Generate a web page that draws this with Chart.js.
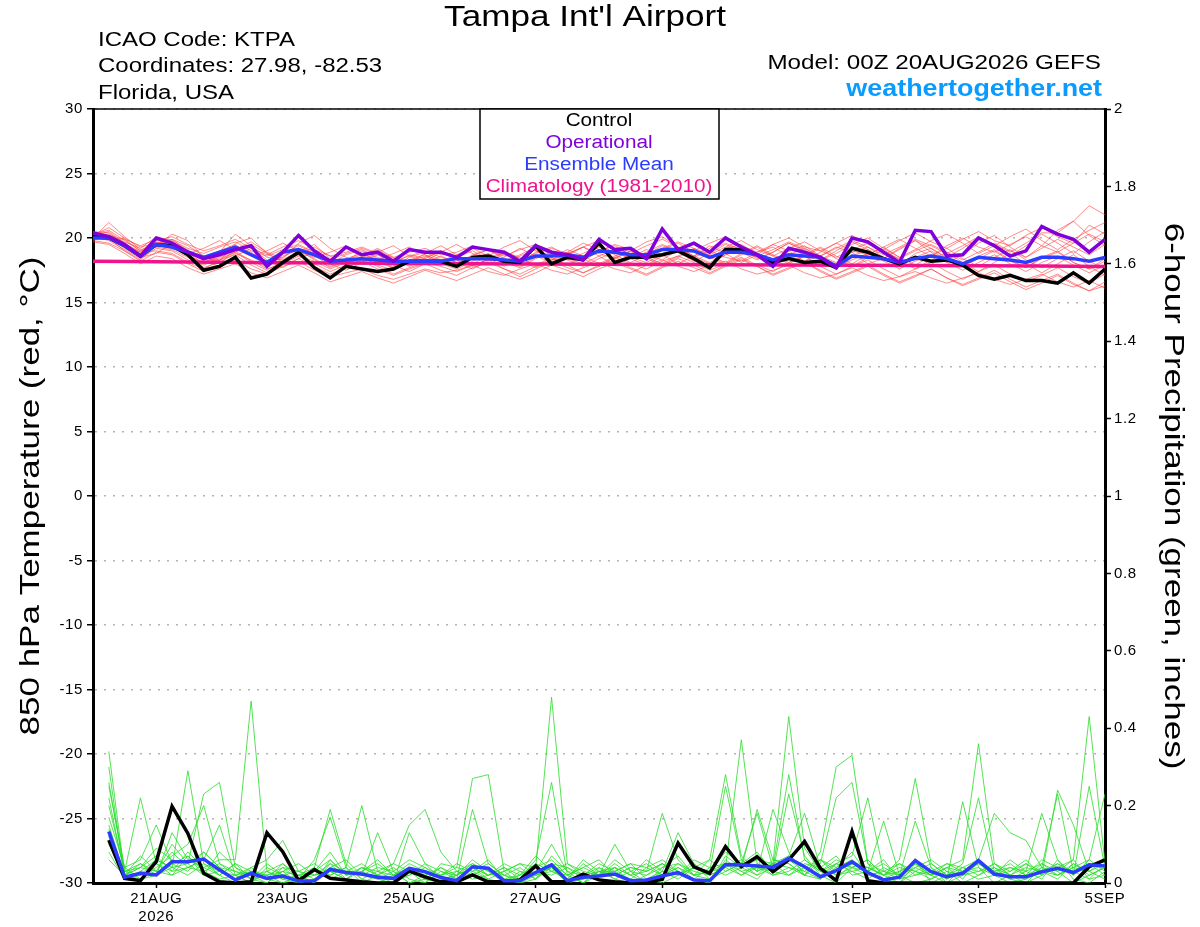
<!DOCTYPE html>
<html>
<head>
<meta charset="utf-8">
<title>Tampa Int'l Airport - GEFS</title>
<script src="https://cdn.jsdelivr.net/npm/chart.js@4/dist/chart.umd.min.js"></script>
<style>
  html, body { margin: 0; padding: 0; background: #fff; }
  #wrap { width: 1200px; height: 927px; }
</style>
</head>
<body>
<div id="wrap"><canvas id="meteogram" width="1200" height="927"></canvas></div>
<script>
// forecast hours, every 6h from 00Z 20AUG2026 out to 384h (5SEP)
let hours = [];
for (let h = 0; h <= 384; h += 6) hours.push(h);
let climoHours = [];
for (let h = 0; h <= 384; h += 24) climoHours.push(h);

// x axis labels (31AUG is skipped on the original)
let tickHours = [24, 72, 120, 168, 216, 288, 336, 384];
let tickLabels = [['21AUG', '2026'], '23AUG', '25AUG', '27AUG', '29AUG', '1SEP', '3SEP', '5SEP'];

// 850 hPa temperature (C), hour 0..384
let controlTemp = [20.1,20.0,19.4,18.6,19.5,19.4,18.7,17.5,17.8,18.5,16.9,17.2,18.1,18.9,17.7,16.9,17.8,17.6,17.4,17.6,18.2,18.2,18.2,17.8,18.5,18.6,18.2,18.1,19.4,18.0,18.5,18.3,19.6,18.1,18.5,18.5,18.7,19.0,18.4,17.7,19.1,19.1,18.7,18.1,18.4,18.1,18.2,17.7,19.2,18.9,18.4,18.0,18.5,18.2,18.3,17.9,17.1,16.8,17.1,16.7,16.7,16.5,17.3,16.5,17.6];
let operTemp = [20.4,20.1,19.5,18.6,20.0,19.6,18.9,18.4,18.7,19.1,19.4,17.8,18.9,20.2,19.0,18.2,19.3,18.7,18.9,18.2,19.1,18.9,18.9,18.5,19.3,19.1,18.9,18.2,19.4,18.9,18.7,18.3,19.9,19.1,19.2,18.4,20.7,19.1,19.6,18.9,20.0,19.3,18.7,17.8,19.2,18.9,18.5,17.7,20.0,19.7,18.9,18.1,20.6,20.5,18.6,18.7,20.0,19.4,18.6,19.0,20.9,20.3,19.9,18.9,19.9];
let meanTemp = [20.0,20.0,19.4,18.6,19.5,19.3,18.9,18.5,18.9,19.3,18.7,18.1,18.9,19.1,18.7,18.2,18.3,18.4,18.3,18.2,18.2,18.2,18.2,18.4,18.4,18.4,18.3,18.2,18.6,18.6,18.7,18.5,19.0,18.9,18.7,18.7,19.1,19.1,19.0,18.5,18.9,18.9,18.7,18.3,18.7,18.6,18.5,17.8,18.6,18.5,18.4,18.1,18.4,18.6,18.4,18.0,18.5,18.4,18.3,18.1,18.5,18.5,18.4,18.2,18.5];
let climoTemp = [18.2,18.16,18.12,18.09,18.06,18.03,18.0,17.98,17.96,17.94,17.92,17.9,17.88,17.86,17.84,17.82,17.8];

// ensemble members, temperature
let memberTemps = [
  [20.3,20.6,19.8,19.0,19.8,20.1,19.5,19.0,19.4,19.9,19.2,18.7,19.3,19.8,19.1,18.6,18.9,19.3,18.8,18.5,18.9,19.2,18.7,18.9,19.4,19.0,18.6,19.1,19.5,19.0,18.7,19.3,19.8,19.2,18.8,19.4,19.9,19.3,19.0,19.6,20.1,19.4,18.9,19.5,20.0,19.3,19.0,19.6,20.2,19.5,19.1,19.8,20.4,19.7,19.2,19.9,20.5,19.8,19.4,20.2,20.8,20.1,19.6,21.0,20.3],
  [19.8,19.6,19.0,18.2,18.9,18.7,18.0,17.4,17.9,18.3,17.6,17.2,17.8,18.2,17.5,17.0,17.3,17.6,17.1,16.8,17.2,17.6,17.3,17.5,17.9,17.4,17.1,17.6,18.0,17.5,17.2,17.7,18.1,17.6,17.3,17.9,18.3,17.8,17.4,17.9,18.2,17.6,17.2,17.5,17.9,17.3,16.9,17.2,17.7,17.1,16.7,17.0,17.4,16.9,16.5,16.9,17.3,16.8,16.4,16.8,17.2,16.6,16.2,16.7,16.1],
  [20.2,20.3,19.6,18.8,19.7,19.5,18.6,18.1,18.6,19.4,18.9,18.0,18.5,19.2,18.6,17.9,18.4,18.8,18.2,17.8,18.5,18.9,18.3,18.0,18.7,19.1,18.4,18.1,18.9,19.3,18.6,18.2,19.0,19.4,18.7,18.3,19.1,19.6,18.9,18.4,19.2,19.5,18.8,18.3,19.0,19.4,18.6,18.1,18.9,19.3,18.5,17.9,18.8,19.2,18.4,17.8,18.6,19.1,18.3,17.7,18.5,19.0,18.1,17.6,18.4],
  [20.0,21.2,20.1,19.1,19.4,20.3,19.8,18.5,18.2,19.6,20.0,18.8,18.1,18.9,19.5,18.4,17.9,18.6,19.2,18.5,17.8,18.4,19.0,18.6,17.9,18.3,18.9,18.5,17.8,18.2,18.8,19.3,18.6,17.9,18.5,19.1,18.7,18.0,18.6,19.4,18.8,18.1,18.7,19.5,19.0,18.2,18.6,19.3,18.9,18.0,18.4,19.2,19.8,18.9,18.1,18.7,19.6,20.2,19.3,18.5,19.4,20.6,21.3,20.2,19.4],
  [20.1,19.8,19.1,18.4,19.2,19.0,18.3,17.9,18.4,18.9,18.1,17.5,18.2,18.7,18.0,17.4,17.9,18.3,17.8,17.2,17.7,18.1,17.8,17.4,17.9,18.3,17.6,17.2,17.8,18.4,17.9,17.3,17.9,18.5,18.0,17.6,18.2,18.6,18.1,17.5,18.0,18.5,17.9,17.4,18.1,18.6,17.8,17.2,17.8,18.3,17.6,17.0,17.6,18.1,17.4,16.8,17.4,17.9,17.2,16.6,17.1,17.7,17.0,16.5,17.2],
  [20.4,20.2,19.7,19.2,20.1,19.8,19.2,18.8,19.3,19.7,19.0,18.6,19.1,19.5,18.9,18.3,18.8,19.2,18.7,18.2,18.6,19.0,18.5,18.1,18.6,19.1,18.7,18.3,18.8,19.2,18.8,18.4,19.0,19.5,19.1,18.6,19.2,19.7,19.2,18.7,19.3,19.8,19.1,18.6,19.2,19.7,19.0,18.5,19.1,19.6,18.9,18.4,19.0,19.5,18.9,18.3,18.9,19.6,19.0,18.5,19.2,19.9,19.3,18.7,19.5],
  [19.9,20.0,19.2,18.5,18.8,19.6,19.1,18.2,17.8,18.6,19.2,18.3,17.7,18.4,18.9,18.0,17.5,18.1,18.7,17.9,17.4,18.0,18.6,18.1,17.6,18.2,18.8,18.2,17.7,18.3,18.9,18.4,17.8,18.5,19.0,18.4,17.9,18.5,19.1,18.5,18.0,18.7,19.3,18.6,18.0,18.6,19.2,18.4,17.8,18.5,19.1,18.3,17.6,18.3,18.9,18.1,17.4,18.1,18.8,18.0,17.3,18.0,18.7,17.8,17.1],
  [20.5,20.4,19.5,18.9,19.9,19.7,19.0,18.4,19.0,19.5,18.6,18.2,18.8,19.4,18.8,18.0,18.7,19.1,18.5,18.0,18.7,18.4,17.9,18.5,19.0,18.4,17.8,18.6,19.1,18.5,17.9,18.6,19.3,18.7,18.1,18.7,19.4,18.9,18.2,18.8,19.5,18.9,18.3,18.9,19.6,19.0,18.3,19.0,19.7,19.1,18.4,19.1,19.8,19.2,18.5,19.2,20.0,19.4,18.6,19.4,20.3,19.6,18.8,19.7,20.5],
  [19.7,19.5,18.8,18.0,18.6,18.4,17.7,17.2,17.6,18.0,17.3,16.9,17.4,17.9,17.3,16.6,17.0,17.4,16.9,16.5,17.0,17.5,17.1,16.7,17.2,17.7,17.2,16.8,17.3,17.9,17.5,17.0,17.6,18.1,17.6,17.1,17.7,18.2,17.7,17.2,17.8,18.3,17.8,17.2,17.7,18.1,17.5,16.9,17.4,17.9,17.2,16.6,17.1,17.6,16.9,16.3,16.8,17.3,16.6,16.0,16.5,17.1,16.4,15.9,16.3],
  [20.2,20.8,20.0,19.3,19.6,19.2,18.7,18.0,18.9,20.3,19.4,18.5,18.3,19.0,18.4,17.7,18.2,19.0,18.4,17.6,18.1,18.8,19.4,18.7,18.0,18.6,19.3,19.8,19.0,18.3,18.9,19.6,19.1,18.4,19.0,19.7,20.1,19.3,18.6,19.2,19.9,19.2,18.4,18.9,19.6,19.1,18.3,18.8,19.5,20.0,19.2,18.5,19.1,19.8,20.3,19.6,18.8,19.4,20.1,20.7,19.8,19.1,19.9,20.6,21.2],
  [20.0,20.1,19.3,18.7,19.3,19.1,18.5,17.7,18.1,18.8,18.3,17.6,18.0,18.6,18.2,17.6,18.1,18.5,17.9,17.5,18.1,18.6,18.0,17.6,18.2,18.7,18.1,17.7,18.4,18.9,18.3,17.8,18.4,18.9,18.4,17.9,18.6,19.0,18.5,18.0,18.7,19.1,18.5,17.9,18.4,18.9,18.3,17.7,18.3,18.8,18.2,17.6,18.2,18.7,18.1,17.5,18.1,18.7,18.0,17.4,18.1,18.6,17.9,17.3,17.9],
  [20.3,20.0,19.9,19.0,19.3,19.9,19.0,18.6,18.0,19.1,19.7,18.9,18.4,19.6,20.2,19.2,18.5,18.1,18.9,19.4,18.6,18.2,18.9,19.5,18.8,18.3,18.5,19.2,18.6,18.1,18.7,19.3,18.8,18.4,19.0,18.7,18.3,19.1,19.7,19.0,18.5,18.2,18.9,19.3,18.6,18.2,18.9,19.6,19.0,18.7,19.3,19.9,19.2,18.6,19.4,20.0,19.3,18.9,19.5,20.1,19.4,18.9,19.6,20.3,19.7],
  [20.1,20.5,19.6,18.9,19.0,18.8,18.1,17.6,18.3,18.7,17.9,17.3,17.9,18.4,17.8,17.2,17.7,18.2,17.6,17.1,17.6,18.0,17.5,17.1,17.7,18.1,17.6,17.0,17.6,18.2,17.7,17.3,17.8,18.3,17.7,17.2,17.8,18.4,17.9,17.3,17.9,18.4,17.8,17.1,17.6,18.1,17.4,16.8,17.3,17.8,17.1,16.5,17.0,17.6,16.9,16.4,16.9,17.5,16.8,16.2,16.7,17.2,16.5,15.9,16.6],
  [19.9,20.2,19.9,19.4,19.9,19.3,18.8,19.2,19.8,19.1,18.6,19.0,19.6,19.0,18.5,18.9,19.4,18.8,18.3,18.8,19.3,18.7,18.2,18.7,19.2,18.6,18.2,18.7,19.3,18.7,18.3,18.8,19.4,18.9,18.4,18.9,19.5,19.0,18.5,19.0,19.6,19.1,18.6,19.1,19.7,19.2,18.6,19.2,19.8,19.3,18.7,19.3,19.9,19.4,18.8,19.4,20.1,19.5,18.9,19.6,20.4,20.4,21.3,22.5,21.8],
  [20.2,19.9,19.3,18.5,19.6,19.9,19.4,18.6,18.3,18.9,19.5,18.8,18.2,18.7,19.3,18.6,18.0,18.5,19.1,18.4,17.9,18.5,19.0,18.3,17.8,18.4,19.0,18.4,17.9,18.5,19.1,18.6,18.0,18.6,19.2,18.5,18.0,18.6,19.2,18.6,18.1,18.8,19.4,18.7,18.1,18.7,19.3,18.6,18.0,18.7,19.3,18.5,17.9,18.6,19.2,18.4,17.8,18.5,19.1,18.3,17.7,18.4,19.0,18.2,17.6],
  [20.0,20.0,19.0,18.3,19.4,19.2,18.9,18.0,18.5,19.0,18.2,17.8,18.6,19.1,18.3,17.8,18.3,18.7,18.1,17.7,18.3,18.7,18.1,17.8,18.4,18.8,18.2,17.8,18.5,19.0,18.4,18.0,18.6,19.1,18.5,18.1,18.7,19.2,18.6,18.1,18.7,19.2,18.6,18.1,18.7,19.2,18.5,18.0,18.6,19.1,18.4,17.9,18.5,19.0,18.3,17.8,18.4,19.0,18.2,17.7,18.4,18.9,18.1,17.6,18.2]
];

// 6-hour precipitation (inches), hour 6..384
let controlPrecip = [0.111,0.012,0.006,0.055,0.198,0.128,0.025,0.003, 0,0.003,0.130,0.081,0.006,0.035,0.012,0.008, 0.003,0,0,0.031,0.016,0.003,0.003,0.021, 0.003,0.003,0.008,0.044,0.003,0.003,0.023,0.008, 0.003,0,0.003,0.009,0.103,0.042,0.025,0.094, 0.042,0.068,0.029,0.060,0.107,0.038,0.006,0.133, 0.006,0,0,0,0,0,0,0, 0,0,0,0,0,0,0.042,0.060];
let meanPrecip = [0.133,0.015,0.025,0.021,0.055,0.055,0.062,0.034, 0.008,0.025,0.012,0.018,0.005,0.006,0.035,0.027, 0.023,0.015,0.012,0.038,0.029,0.014,0.006,0.042, 0.038,0.006,0.006,0.027,0.047,0.006,0.015,0.018, 0.023,0.006,0.008,0.018,0.027,0.008,0.006,0.048, 0.047,0.044,0.041,0.064,0.042,0.016,0.032,0.055, 0.027,0.008,0.015,0.058,0.029,0.016,0.025,0.058, 0.023,0.016,0.016,0.029,0.038,0.027,0.047,0.044];

let memberPrecips = [
  [0.34,0.02,0.05,0.03,0.08,0.04,0.06,0.15, 0.02,0.00,0.03,0.01,0.00,0.04,0.19,0.05, 0.01,0.00,0.02,0.04,0.01,0.00,0.02,0.05, 0.03,0.00,0.01,0.06,0.26,0.02,0.00,0.03, 0.01,0.00,0.02,0.05,0.03,0.01,0.00,0.07, 0.04,0.19,0.06,0.05,0.02,0.08,0.30,0.33, 0.05,0.01,0.00,0.03,0.02,0.00,0.04,0.06, 0.02,0.00,0.01,0.05,0.03,0.00,0.02,0.04],
  [0.30,0.01,0.03,0.06,0.04,0.29,0.05,0.02, 0.00,0.03,0.01,0.00,0.02,0.00,0.05,0.03, 0.02,0.13,0.03,0.00,0.01,0.02,0.00,0.03, 0.06,0.01,0.00,0.02,0.04,0.00,0.01,0.03, 0.04,0.00,0.01,0.03,0.13,0.05,0.02,0.04, 0.06,0.03,0.19,0.08,0.02,0.01,0.04,0.06, 0.03,0.16,0.02,0.00,0.01,0.03,0.00,0.02, 0.04,0.01,0.03,0.18,0.06,0.01,0.00,0.03],
  [0.26,0.03,0.22,0.05,0.02,0.07,0.03,0.01, 0.02,0.00,0.04,0.02,0.01,0.06,0.17,0.04, 0.00,0.02,0.01,0.03,0.00,0.05,0.04,0.27, 0.28,0.03,0.00,0.01,0.05,0.02,0.00,0.04, 0.02,0.01,0.00,0.04,0.07,0.02,0.03,0.05, 0.02,0.04,0.03,0.23,0.07,0.02,0.00,0.04, 0.06,0.02,0.00,0.05,0.03,0.01,0.21,0.04, 0.00,0.02,0.01,0.03,0.05,0.02,0.06,0.23],
  [0.22,0.02,0.04,0.09,0.06,0.05,0.23,0.26, 0.04,0.01,0.00,0.03,0.02,0.00,0.06,0.02, 0.03,0.01,0.00,0.02,0.04,0.01,0.00,0.02, 0.04,0.00,0.02,0.07,0.03,0.01,0.05,0.02, 0.10,0.03,0.00,0.02,0.04,0.01,0.00,0.06, 0.03,0.01,0.05,0.07,0.18,0.04,0.02,0.03, 0.01,0.04,0.02,0.06,0.00,0.02,0.05,0.22, 0.03,0.01,0.00,0.02,0.04,0.06,0.01,0.02],
  [0.17,0.04,0.06,0.15,0.05,0.03,0.08,0.04, 0.01,0.03,0.02,0.00,0.01,0.03,0.02,0.04, 0.20,0.03,0.01,0.04,0.02,0.00,0.03,0.01, 0.02,0.04,0.01,0.03,0.10,0.03,0.00,0.02, 0.03,0.05,0.01,0.00,0.02,0.04,0.03,0.08, 0.05,0.18,0.04,0.06,0.03,0.01,0.05,0.07, 0.22,0.03,0.01,0.02,0.04,0.00,0.02,0.03, 0.05,0.02,0.00,0.04,0.23,0.03,0.01,0.05],
  [0.14,0.01,0.02,0.04,0.07,0.10,0.20,0.05, 0.03,0.02,0.00,0.04,0.01,0.02,0.03,0.01, 0.04,0.02,0.00,0.13,0.05,0.01,0.02,0.04, 0.01,0.00,0.03,0.02,0.04,0.01,0.06,0.03, 0.02,0.04,0.03,0.18,0.06,0.02,0.01,0.05, 0.04,0.06,0.05,0.43,0.09,0.03,0.06,0.04, 0.02,0.01,0.03,0.05,0.02,0.04,0.01,0.06, 0.18,0.13,0.11,0.04,0.02,0.05,0.03,0.01],
  [0.12,0.03,0.05,0.02,0.13,0.06,0.04,0.02, 0.05,0.01,0.02,0.03,0.00,0.01,0.04,0.06, 0.02,0.01,0.03,0.00,0.02,0.04,0.01,0.19, 0.05,0.02,0.00,0.03,0.02,0.04,0.01,0.02, 0.05,0.02,0.00,0.03,0.01,0.04,0.06,0.28, 0.07,0.03,0.05,0.02,0.04,0.06,0.03,0.05, 0.04,0.02,0.06,0.27,0.05,0.02,0.03,0.01, 0.02,0.04,0.03,0.01,0.06,0.02,0.25,0.04],
  [0.10,0.02,0.01,0.05,0.03,0.08,0.04,0.06, 0.06,0.47,0.03,0.01,0.02,0.04,0.01,0.03, 0.05,0.02,0.04,0.01,0.00,0.03,0.02,0.04, 0.02,0.05,0.03,0.01,0.04,0.00,0.02,0.05, 0.03,0.01,0.04,0.02,0.05,0.03,0.02,0.04, 0.37,0.05,0.02,0.04,0.03,0.06,0.02,0.04, 0.03,0.05,0.02,0.16,0.04,0.01,0.03,0.05, 0.02,0.03,0.05,0.02,0.24,0.15,0.03,0.06],
  [0.08,0.01,0.03,0.02,0.04,0.05,0.02,0.03, 0.01,0.04,0.06,0.11,0.03,0.02,0.05,0.01, 0.03,0.05,0.02,0.04,0.01,0.02,0.05,0.03, 0.01,0.03,0.05,0.04,0.48,0.05,0.02,0.01, 0.04,0.02,0.06,0.03,0.02,0.05,0.01,0.03, 0.05,0.02,0.04,0.28,0.06,0.03,0.01,0.05, 0.04,0.02,0.05,0.03,0.01,0.04,0.06,0.36, 0.05,0.02,0.04,0.03,0.01,0.05,0.02,0.04],
  [0.06,0.02,0.04,0.03,0.02,0.04,0.03,0.05, 0.02,0.03,0.01,0.05,0.02,0.03,0.06,0.02, 0.04,0.03,0.05,0.15,0.19,0.08,0.03,0.02, 0.04,0.01,0.02,0.05,0.03,0.02,0.04,0.06, 0.02,0.04,0.03,0.05,0.02,0.04,0.03,0.25, 0.06,0.03,0.05,0.04,0.02,0.05,0.22,0.26, 0.05,0.03,0.02,0.04,0.06,0.03,0.02,0.05, 0.03,0.05,0.02,0.04,0.03,0.06,0.43,0.05],
  [0.20,0.03,0.02,0.06,0.04,0.02,0.05,0.03, 0.02,0.04,0.01,0.03,0.05,0.02,0.03,0.01, 0.04,0.02,0.05,0.03,0.01,0.04,0.02,0.06, 0.03,0.02,0.04,0.01,0.07,0.03,0.02,0.04, 0.01,0.03,0.05,0.02,0.04,0.02,0.06,0.03, 0.05,0.08,0.03,0.02,0.05,0.04,0.07,0.02, 0.03,0.06,0.01,0.04,0.02,0.05,0.03,0.04, 0.02,0.06,0.03,0.05,0.02,0.04,0.06,0.03],
  [0.15,0.02,0.07,0.03,0.10,0.05,0.08,0.04, 0.03,0.01,0.05,0.02,0.03,0.05,0.02,0.04, 0.01,0.03,0.02,0.05,0.03,0.02,0.04,0.03, 0.05,0.02,0.01,0.04,0.06,0.02,0.04,0.02, 0.06,0.03,0.02,0.04,0.05,0.02,0.03,0.04, 0.02,0.05,0.03,0.06,0.04,0.02,0.05,0.03, 0.04,0.02,0.03,0.05,0.02,0.04,0.03,0.06, 0.03,0.04,0.02,0.06,0.04,0.03,0.05,0.02],
  [0.25,0.04,0.01,0.02,0.05,0.07,0.02,0.08, 0.04,0.02,0.03,0.05,0.01,0.03,0.08,0.02, 0.03,0.06,0.02,0.02,0.05,0.03,0.01,0.04, 0.02,0.04,0.02,0.03,0.05,0.04,0.02,0.03, 0.03,0.05,0.04,0.06,0.03,0.01,0.04,0.02, 0.04,0.02,0.06,0.05,0.02,0.06,0.04,0.08, 0.02,0.03,0.05,0.02,0.03,0.05,0.04,0.02, 0.05,0.03,0.06,0.02,0.05,0.03,0.04,0.06],
  [0.12,0.03,0.04,0.07,0.03,0.04,0.06,0.02, 0.05,0.03,0.02,0.04,0.03,0.01,0.04,0.03, 0.02,0.04,0.03,0.06,0.04,0.02,0.03,0.05, 0.02,0.03,0.05,0.02,0.03,0.05,0.03,0.02, 0.04,0.02,0.03,0.05,0.02,0.06,0.04,0.05, 0.03,0.04,0.02,0.03,0.06,0.03,0.05,0.04, 0.06,0.02,0.04,0.03,0.05,0.02,0.04,0.03, 0.04,0.02,0.05,0.03,0.02,0.04,0.03,0.05]
];

const FONT = "'Liberation Sans', Arial, Helvetica, sans-serif";
const PURPLE = '#8000DC';
const BLUE = '#2B3CFF';
const PINK = '#F0148C';

// pair series values with their forecast hour
function tempPoints(arr) { return arr.map((v, i) => ({x: hours[i], y: v})); }
function precipPoints(arr) { return arr.map((v, i) => ({x: hours[i + 1], y: v})); }

let datasets = [];
memberTemps.forEach(m => datasets.push({
    data: tempPoints(m), yAxisID: 'y', borderColor: 'rgba(255,60,60,0.75)', borderWidth: 0.8, order: 6
}));
memberPrecips.forEach(m => datasets.push({
    data: precipPoints(m), yAxisID: 'y2', borderColor: 'rgb(40,220,40)', borderWidth: 0.8, order: 5
}));
datasets.push({data: climoTemp.map((v, i) => ({x: climoHours[i], y: v})), yAxisID: 'y', borderColor: PINK, borderWidth: 3.5, order: 4});
datasets.push({data: tempPoints(controlTemp), yAxisID: 'y', borderColor: '#000', borderWidth: 3.5, order: 3});
datasets.push({data: precipPoints(controlPrecip), yAxisID: 'y2', borderColor: '#000', borderWidth: 3.5, order: 3});
datasets.push({data: tempPoints(meanTemp), yAxisID: 'y', borderColor: BLUE, borderWidth: 3.5, order: 2});
datasets.push({data: precipPoints(meanPrecip), yAxisID: 'y2', borderColor: BLUE, borderWidth: 3.5, order: 2});
datasets.push({data: tempPoints(operTemp), yAxisID: 'y', borderColor: PURPLE, borderWidth: 3.5, order: 1});

// the original's lettering is wider than Liberation Sans, so stretch it sideways
function wideText(ctx, text, x, y, stretch, align, angle) {
    ctx.save();
    ctx.translate(x, y);
    if (angle) ctx.rotate(angle);
    ctx.scale(stretch, 1);
    ctx.letterSpacing = '0px';
    ctx.textAlign = align;
    ctx.fillText(text, 0, 0);
    ctx.restore();
}

// header text, axis titles, legend box and the top frame line
const decorations = {
    id: 'decorations',
    beforeDraw(chart) {
        chart.ctx.letterSpacing = '0.6px';
    },
    afterDatasetsDraw(chart) {
        const {ctx, chartArea} = chart;
        ctx.save();
        ctx.strokeStyle = '#000';
        ctx.lineWidth = 1.5;
        ctx.beginPath();
        ctx.moveTo(chartArea.left, chartArea.top);
        ctx.lineTo(chartArea.right, chartArea.top);
        ctx.stroke();

        // legend box
        ctx.fillStyle = '#fff';
        ctx.fillRect(480, chartArea.top, 239, 90);
        ctx.strokeRect(480, chartArea.top, 239, 90);
        ctx.font = '18px ' + FONT;
        ctx.textBaseline = 'middle';
        [['Control', '#000'], ['Operational', PURPLE], ['Ensemble Mean', BLUE], ['Climatology (1981-2010)', PINK]]
            .forEach((l, i) => {
                ctx.fillStyle = l[1];
                wideText(ctx, l[0], 599, 121 + i * 22, 1.15, 'center');
            });

        // title and station info
        ctx.fillStyle = '#000';
        ctx.font = '30px ' + FONT;
        wideText(ctx, "Tampa Int'l Airport", 585, 18, 1.17, 'center');
        ctx.font = '20px ' + FONT;
        wideText(ctx, 'ICAO Code: KTPA', 98, 40, 1.2, 'left');
        wideText(ctx, 'Coordinates: 27.98, -82.53', 98, 66, 1.2, 'left');
        wideText(ctx, 'Florida, USA', 98, 93, 1.2, 'left');
        wideText(ctx, 'Model: 00Z 20AUG2026 GEFS', 1101, 63, 1.21, 'right');
        ctx.fillStyle = '#0A9BFF';
        ctx.font = 'bold 23px ' + FONT;
        wideText(ctx, 'weathertogether.net', 1102, 90, 1.17, 'right');

        // axis titles
        const midY = (chartArea.top + chartArea.bottom) / 2;
        ctx.fillStyle = '#000';
        ctx.font = '28px ' + FONT;
        wideText(ctx, '850 hPa Temperature (red, °C)', 31, midY, 1.25, 'center', -Math.PI / 2);
        wideText(ctx, '6-hour Precipitation (green, inches)', 1173, midY, 1.25, 'center', Math.PI / 2);
        ctx.restore();
    }
};

let ctx = document.querySelector('#meteogram').getContext('2d');
let meteogram = new Chart(ctx, {
    type: 'line',
    data: {datasets: datasets},
    plugins: [decorations],
    options: {
        responsive: false,
        animation: false,
        devicePixelRatio: 1,
        layout: {padding: {left: 0, right: 0, top: 109, bottom: 0}},
        elements: {point: {radius: 0}, line: {tension: 0}},
        plugins: {
            legend: {display: false},
            tooltip: {enabled: false}
        },
        scales: {
            x: {
                type: 'linear',
                min: 0,
                max: 384,
                afterBuildTicks: (s) => { s.ticks = tickHours.map(v => ({value: v})); },
                afterFit: (s) => { s.height = 44; },
                ticks: {
                    autoSkip: false,
                    maxRotation: 0,
                    padding: 2,
                    color: '#000',
                    font: {family: FONT, size: 15},
                    callback: (v) => tickLabels[tickHours.indexOf(v)]
                },
                grid: {drawOnChartArea: false, tickLength: 5, tickColor: '#000', tickWidth: 1.5},
                border: {color: '#000', width: 3}
            },
            y: {
                position: 'left',
                min: -30,
                max: 30,
                afterFit: (s) => { s.width = 93; },
                ticks: {stepSize: 5, padding: 4, color: '#000', font: {family: FONT, size: 15}},
                grid: {color: '#b4b4b4', lineWidth: 1.5, tickLength: 6, tickColor: '#000', tickWidth: 1.5, tickBorderDash: [1, 0]},
                border: {color: '#000', width: 3, dash: [2, 7]}
            },
            y2: {
                position: 'right',
                min: 0,
                max: 2,
                afterFit: (s) => { s.width = 95; },
                ticks: {
                    stepSize: 0.2,
                    padding: 3,
                    color: '#000',
                    font: {family: FONT, size: 15},
                    callback: (v) => String(Number(v.toFixed(1)))
                },
                grid: {drawOnChartArea: false, tickLength: 6, tickColor: '#000', tickWidth: 1.5},
                border: {color: '#000', width: 3}
            }
        }
    }
});
</script>
</body>
</html>
